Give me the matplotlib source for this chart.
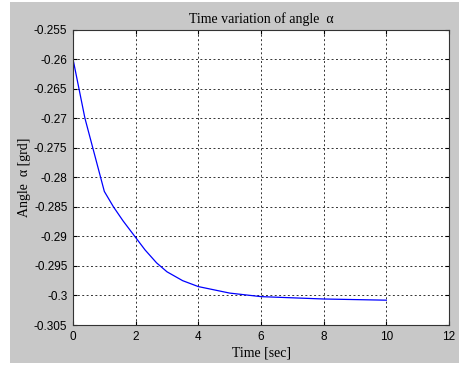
import matplotlib
matplotlib.use("Agg")
import matplotlib.pyplot as plt
from matplotlib.patches import Rectangle

# values
t = [0, 0.19, 0.38, 0.63, 0.88, 1.0, 1.29, 1.6, 2.0, 2.3, 2.67, 3.0, 3.5, 4.0, 5.0, 6.0, 7.0, 8.0, 9.0, 10.0]
alpha = [-0.2600, -0.2650, -0.2700, -0.2750, -0.2800, -0.2824, -0.2850, -0.2874, -0.2902, -0.2923,
         -0.2945, -0.2960, -0.2975, -0.2985, -0.2996, -0.3002, -0.3004, -0.3006, -0.3007, -0.3008]

xticks = [0, 2, 4, 6, 8, 10, 12]
yticks = [-0.305, -0.3, -0.295, -0.29, -0.285, -0.28, -0.275, -0.27, -0.265, -0.26, -0.255]
ytick_labels = ["-0.305", "-0.3", "-0.295", "-0.29", "-0.285", "-0.28", "-0.275", "-0.27", "-0.265", "-0.26", "-0.255"]

fig = plt.figure(figsize=(4.59, 3.67), dpi=100, facecolor="white")
fig.add_artist(Rectangle((10 / 459, 4 / 367), 1, 1 - 6 / 367, transform=fig.transFigure,
                         facecolor="#c8c8c8", edgecolor="none", zorder=-5))

ax = fig.add_axes([73 / 459, 1 - 325 / 367, (449 - 73) / 459, (325 - 29.5) / 367])
ax.plot(t, alpha, color="blue", lw=0.9)

ax.set_xlim(0, 12)
ax.set_ylim(-0.305, -0.255)
ax.set_xticks(xticks)
ax.set_xticklabels([str(v) for v in xticks])
ax.set_yticks(yticks)
ax.set_yticklabels(ytick_labels)
ax.tick_params(direction="in", length=3, top=True, right=True, labelsize=8.5, pad=4)
for lab in ax.get_xticklabels() + ax.get_yticklabels():
    lab.set_fontfamily("Liberation Sans")
ax.grid(True, color="black", linestyle=(0, (2, 2.5)), lw=0.7, alpha=0.8)
for s in ax.spines.values():
    s.set_linewidth(0.8)
    s.set_color("#333333")

ax.set_title("Time variation of angle  \u03b1", fontfamily="Liberation Serif", fontsize=10, pad=5)
ax.set_xlabel("Time [sec]", fontfamily="Liberation Serif", fontsize=10, labelpad=3)
ax.set_ylabel("Angle  \u03b1 [grd]", fontfamily="Liberation Serif", fontsize=10, labelpad=2)

fig.savefig("out.png", dpi=100, facecolor=fig.get_facecolor())
